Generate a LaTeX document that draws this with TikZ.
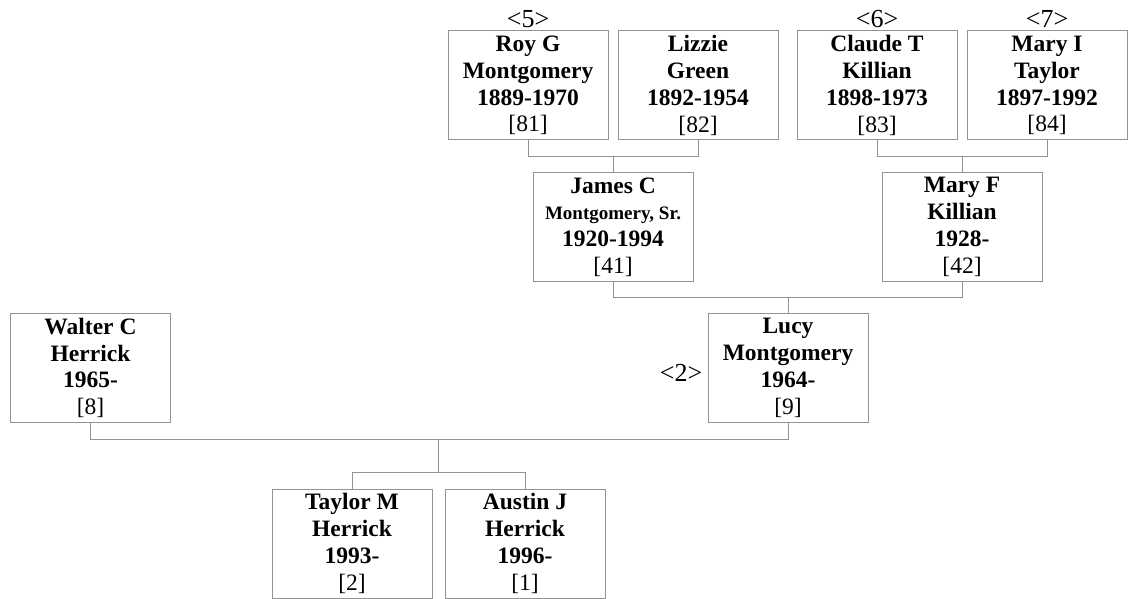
\documentclass[tikz,border=0pt]{standalone}
\usepackage{fontspec}
\setmainfont{Liberation Serif}
\usetikzlibrary{positioning,calc}

\tikzset{
  person/.style={draw=gray!85, line width=1pt, minimum width=160pt, minimum height=109pt,
    inner sep=0pt, align=center, font=\fontsize{23.5}{26.8}\selectfont\bfseries},
  link/.style={draw=gray!85, line width=1pt},
  tag/.style={inner sep=0pt, font=\fontsize{26}{28}\selectfont}
}
\newcommand{\idx}[1]{{\mdseries[#1]}}

\begin{document}
\begin{tikzpicture}[x=1pt,y=-1pt]
    \useasboundingbox (0,0) rectangle (1132,599);
    % great-grandparents
    \node[person] (roy) at (528,85.5) {Roy G\\Montgomery\\1889-1970\\\idx{81}};
    \node[person] (lizzie) at (698,85.5) {Lizzie\\Green\\1892-1954\\\idx{82}};
    \node[person] (claude) at (877,85.5) {Claude T\\Killian\\1898-1973\\\idx{83}};
    \node[person] (maryi) at (1047,85.5) {Mary I\\Taylor\\1897-1992\\\idx{84}};
    \node[tag, above=3pt of roy] (n5) {<5>};
    \node[tag, above=3pt of claude] (n6) {<6>};
    \node[tag, above=3pt of maryi] (n7) {<7>};
    % grandparents
    \node[person] (james) at (613,227) {James C\\{\fontsize{19}{26.8}\selectfont Montgomery, Sr.}\\1920-1994\\\idx{41}};
    \node[person] (maryf) at (962,227) {Mary F\\Killian\\1928-\\\idx{42}};
    % parents
    \node[person] (walter) at (90.5,368) {Walter C\\Herrick\\1965-\\\idx{8}};
    \node[person] (lucy) at (788,368) {Lucy\\Montgomery\\1964-\\\idx{9}};
    \node[tag, left=5pt of lucy, yshift=-5pt] (n2) {<2>};
    % children
    \node[person] (taylor) at (352,543.5) {Taylor M\\Herrick\\1993-\\\idx{2}};
    \node[person] (austin) at (525,543.5) {Austin J\\Herrick\\1996-\\\idx{1}};

    \draw[link] (roy.south) -- ++(0,15.5) coordinate (bar1) -| (lizzie.south);
    \draw[link] (james.north) -- (james.north |- bar1);
    \draw[link] (claude.south) -- ++(0,15.5) coordinate (bar2) -| (maryi.south);
    \draw[link] (maryf.north) -- (maryf.north |- bar2);
    \draw[link] (james.south) -- ++(0,15) coordinate (bar3) -| (maryf.south);
    \draw[link] (lucy.north) -- (lucy.north |- bar3);
    \draw[link] (walter.south) -- ++(0,16) coordinate (bar4) -| (lucy.south);
    \draw[link] (taylor.north) -- ++(0,-16) coordinate (bar5) -| (austin.north);
    \coordinate (kids) at ($(taylor.north)!0.5!(austin.north)$);
    \draw[link] (kids |- bar5) -- (kids |- bar4);
\end{tikzpicture}
\end{document}
